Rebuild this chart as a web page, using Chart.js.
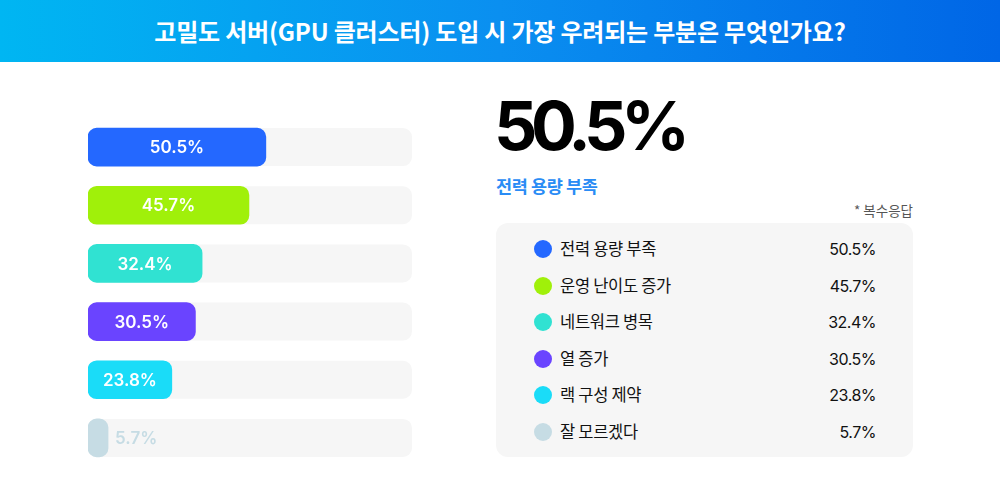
<!DOCTYPE html>
<html>
<head>
<meta charset="utf-8">
<script src="https://cdn.jsdelivr.net/npm/chart.js@4/dist/chart.umd.min.js"></script>
<style>
  body { margin:0; width:1000px; height:500px; background:#fff; position:relative; overflow:hidden;
         font-family: "Inter", "Noto Sans CJK KR", sans-serif; }
  #head { position:absolute; left:0; top:0; width:1000px; height:62px;
          background:linear-gradient(90deg,#00b6f2 0%,#0a8ff0 50%,#0066e6 100%);
          color:#fff; font-family:"Noto Sans CJK KR"; font-weight:700; font-size:24px;
          letter-spacing:-0.2px; text-align:center; line-height:62px; }
  #wrap { position:absolute; left:88px; top:118px; width:324px; height:349px; }
  #big { position:absolute; left:494px; top:84px; font-size:68px; font-weight:700; color:#000; letter-spacing:-6.5px; }
  #bigLabel { position:absolute; left:496px; top:173px; font-family:"Noto Sans CJK KR"; font-weight:700;
              font-size:17.5px; color:#2a8cf5; letter-spacing:-0.4px; }
  #note { position:absolute; right:87px; top:200px; font-family:"Noto Sans CJK KR"; font-size:13.5px; color:#555; }
  #panel { position:absolute; left:496px; top:223px; width:417px; height:234px; background:#f6f6f6; border-radius:12px; }
  .row { position:absolute; left:0; width:417px; height:20px; }
  .dot { position:absolute; left:38px; top:1px; width:18px; height:18px; border-radius:50%; }
  .lab { position:absolute; left:64px; top:-3px; font-family:"Noto Sans CJK KR"; font-size:16.5px; color:#111; letter-spacing:-0.3px; }
  .val { position:absolute; right:37px; top:0px; font-size:16px; color:#111; letter-spacing:-0.5px; }
</style>
</head>
<body>
<div id="head">고밀도 서버(GPU 클러스터) 도입 시 가장 우려되는 부분은 무엇인가요?</div>
<div id="wrap"><canvas id="bars"></canvas></div>
<div id="big"></div>
<div id="bigLabel"></div>
<div id="note">* 복수응답</div>
<div id="panel"></div>
<script>
const categories = ["전력 용량 부족", "운영 난이도 증가", "네트워크 병목", "열 증가", "랙 구성 제약", "잘 모르겠다"];
const values = [50.5, 45.7, 32.4, 30.5, 23.8, 5.7];
const colors = ["#2468ff", "#a0f00a", "#30e2d2", "#6a44ff", "#1adcf8", "#c6dce4"];
const maxValue = 92;

// right side: headline + legend list
document.getElementById("big").textContent = values[0] + "%";
document.getElementById("bigLabel").textContent = categories[0];
const panel = document.getElementById("panel");
categories.forEach((c, i) => {
  const r = document.createElement("div");
  r.className = "row";
  r.style.top = (16 + i * 36.6) + "px";
  r.innerHTML = '<div class="dot" style="background:' + colors[i] + '"></div>' +
    '<div class="lab">' + c + '</div><div class="val">' + values[i].toFixed(1) + '%</div>';
  panel.appendChild(r);
});

// grey track behind each bar
const trackPlugin = {
  id: "track",
  beforeDatasetsDraw(chart) {
    const ctx = chart.ctx, xs = chart.scales.x, ys = chart.scales.y;
    ctx.save();
    ctx.fillStyle = "#f6f6f6";
    categories.forEach((c, i) => {
      const y = ys.getPixelForValue(i);
      ctx.beginPath();
      ctx.roundRect(xs.getPixelForValue(0), y - 19, xs.getPixelForValue(maxValue) - xs.getPixelForValue(0), 38, 9);
      ctx.fill();
    });
    ctx.restore();
  }
};

const labelPlugin = {
  id: "barLabels",
  afterDatasetsDraw(chart) {
    const ctx = chart.ctx;
    const meta = chart.getDatasetMeta(0);
    ctx.save();
    ctx.font = "600 17px Inter, 'Noto Sans CJK KR'";
    ctx.textBaseline = "middle";
    meta.data.forEach((bar, i) => {
      const txt = values[i].toFixed(1) + "%";
      if (values[i] > 15) {
        ctx.fillStyle = "#fff";
        ctx.textAlign = "center";
        ctx.fillText(txt, (bar.x + bar.base) / 2, bar.y + 1);
      } else {
        ctx.fillStyle = colors[i];
        ctx.textAlign = "left";
        ctx.fillText(txt, bar.x + 7, bar.y + 1);
      }
    });
    ctx.restore();
  }
};

new Chart(document.getElementById("bars"), {
  type: "bar",
  data: {
    labels: categories,
    datasets: [{
      data: values,
      backgroundColor: colors,
      barThickness: 38,
      borderRadius: 9,
      borderSkipped: false
    }]
  },
  options: {
    indexAxis: "y",
    responsive: true,
    maintainAspectRatio: false,
    animation: false,
    layout: { padding: 0 },
    plugins: { legend: { display: false }, tooltip: { enabled: false } },
    scales: {
      x: { min: 0, max: maxValue, display: false },
      y: { display: false }
    }
  },
  plugins: [trackPlugin, labelPlugin]
});
</script>
</body>
</html>
